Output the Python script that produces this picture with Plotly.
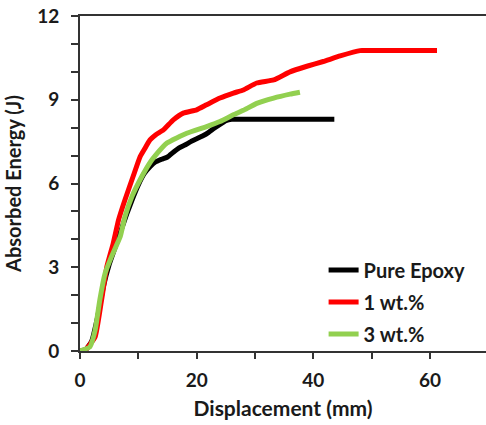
import plotly.graph_objects as go

# Data
epoxy_x = [0, 1, 2, 3, 4, 5, 6, 7, 8, 9, 10, 11, 12, 13, 14, 15, 16, 17, 18, 19, 20, 21, 22, 23, 24, 25, 26, 27, 43.6]
epoxy_y = [0, 0.05, 0.35, 1.2, 2.3, 3.1, 3.7, 4.3, 4.9, 5.45, 5.95, 6.35, 6.6, 6.78, 6.87, 6.95, 7.12, 7.28, 7.38, 7.5, 7.6, 7.7, 7.82, 7.98, 8.12, 8.25, 8.3, 8.3, 8.3]

wt1_x = [0, 0.9, 2.6, 3.7, 4.6, 5.7, 6.6, 7.7, 9.1, 10.3, 11.1, 12, 13, 14.3, 16, 17.7, 20, 21.7, 24, 26.3, 28, 30.3, 33.2, 36, 38.9, 41.7, 44.6, 48, 49, 61.2]
wt1_y = [0, 0.04, 0.51, 1.83, 3.02, 3.86, 4.69, 5.41, 6.25, 6.96, 7.25, 7.56, 7.75, 7.92, 8.28, 8.52, 8.64, 8.82, 9.06, 9.24, 9.35, 9.6, 9.71, 10.0, 10.2, 10.37, 10.57, 10.76, 10.76, 10.76]

wt3_x = [0, 1.7, 2.6, 3.4, 4.3, 5.4, 6.9, 7.7, 8.9, 10.6, 12.0, 12.9, 14.9, 18.3, 21.7, 24, 26.3, 28, 30.3, 33.2, 36, 37.7]
wt3_y = [0, 0.15, 0.75, 1.83, 2.78, 3.38, 4.1, 4.81, 5.53, 6.25, 6.75, 7.0, 7.45, 7.8, 8.04, 8.22, 8.46, 8.62, 8.87, 9.06, 9.2, 9.27]

names = ["Pure Epoxy", "1 wt.%", "3 wt.%"]
colors = ["#000000", "#FF0000", "#92D050"]

font_family = "Lato"
fig = go.Figure()
for i, (xs, ys) in enumerate([(epoxy_x, epoxy_y), (wt1_x, wt1_y), (wt3_x, wt3_y)]):
    fig.add_trace(go.Scatter(
        x=xs, y=ys, mode="lines", name=names[i],
        legendgroup=f"g{i}",
        line=dict(color=colors[i], width=5, shape="spline", smoothing=0.4),
    ))

fig.update_layout(
    width=486, height=425,
    margin=dict(l=80, r=0, t=16, b=74),
    plot_bgcolor="white", paper_bgcolor="white",
    font=dict(family=font_family, size=18, color="#1a1a1a", weight="bold"),
    showlegend=True,
    legend=dict(
        x=0.6, y=0.30, xanchor="left", yanchor="top",
        bgcolor="rgba(0,0,0,0)",
        font=dict(family=font_family, size=20, color="#1a1a1a", weight="bold"),
        tracegroupgap=3,
        itemwidth=30,
    ),
    xaxis=dict(
        range=[0, 69.6], tickvals=[0, 20, 40, 60],
        showgrid=False, zeroline=False,
        showline=True, linecolor="#333333", linewidth=2, mirror=True,
        ticks="outside", ticklen=6, tickwidth=2, tickcolor="#333333",
        minor=dict(dtick=10, tick0=0, ticks="outside", ticklen=6, tickwidth=2, tickcolor="#333333", showgrid=False),
        tickfont=dict(family=font_family, size=19, weight="bold"),
        ticklabelstandoff=5,
        title=dict(text="Displacement (mm)", font=dict(family=font_family, size=21, weight="bold"), standoff=12),
    ),
    yaxis=dict(
        range=[0, 12], tickvals=[0, 3, 6, 9, 12],
        showgrid=False, zeroline=False,
        showline=True, linecolor="#333333", linewidth=2,
        ticks="outside", ticklen=7, tickwidth=2, tickcolor="#333333",
        minor=dict(dtick=1, tick0=0, ticks="outside", ticklen=7, tickwidth=2, tickcolor="#333333", showgrid=False),
        tickfont=dict(family=font_family, size=19, weight="bold"),
        ticklabelstandoff=8,
        title=dict(text="Absorbed Energy (J)", font=dict(family=font_family, size=20, weight="bold"), standoff=10),
    ),
)

fig.write_html("out.html")
